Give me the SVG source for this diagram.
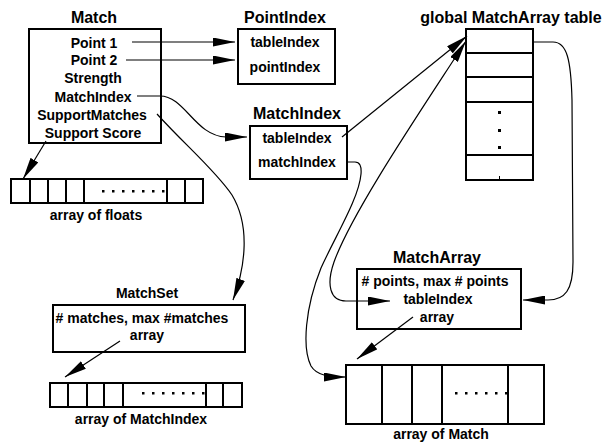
<svg xmlns="http://www.w3.org/2000/svg" width="610" height="442" viewBox="0 0 610 442">
  <defs>
    <marker id="arrow" markerUnits="userSpaceOnUse" markerWidth="22" markerHeight="9" refX="22" refY="4.5" orient="auto-start-reverse">
      <path d="M0,0 L22,4.5 L0,9 z" fill="#000"/>
    </marker>
  </defs>
  <style>
    text { font-family: "Liberation Sans", Arial, Helvetica, sans-serif; font-weight: bold; fill: #000; text-anchor: middle; }
    .title { font-size: 16px; }
    .item { font-size: 14px; }
    .box { fill: #fff; stroke: #000; stroke-width: 2; }
    .cell { fill: none; stroke: #000; stroke-width: 2; }
    .conn { fill: none; stroke: #000; stroke-width: 1.2; }
    .dot { fill: #000; }
  </style>
  <rect x="0" y="0" width="610" height="442" fill="#fff"/>

  <!-- Match record -->
  <g id="match">
    <text class="title" x="94" y="23">Match</text>
    <rect class="box" x="29" y="29" width="132" height="114"/>
    <text class="item" x="94" y="48">Point 1</text>
    <text class="item" x="94" y="65">Point 2</text>
    <text class="item" x="93" y="83">Strength</text>
    <text class="item" x="93" y="102">MatchIndex</text>
    <text class="item" x="92" y="120">SupportMatches</text>
    <text class="item" x="93" y="138">Support Score</text>
  </g>

  <!-- PointIndex record -->
  <g id="pointindex">
    <text class="title" x="285" y="23">PointIndex</text>
    <rect class="box" x="238" y="29" width="97" height="55"/>
    <text class="item" x="285" y="47">tableIndex</text>
    <text class="item" x="285" y="72">pointIndex</text>
  </g>

  <!-- MatchIndex record -->
  <g id="matchindex">
    <text class="title" x="297" y="119">MatchIndex</text>
    <rect class="box" x="250" y="126" width="97" height="53"/>
    <text class="item" x="297" y="143">tableIndex</text>
    <text class="item" x="297" y="167">matchIndex</text>
  </g>

  <!-- global MatchArray table -->
  <g id="global-table">
    <text class="title" x="511" y="23">global MatchArray table</text>
    <rect class="box" x="466" y="29" width="67" height="151"/>
    <line class="cell" x1="466" y1="53" x2="533" y2="53"/>
    <line class="cell" x1="466" y1="77" x2="533" y2="77"/>
    <line class="cell" x1="466" y1="102" x2="533" y2="102"/>
    <line class="cell" x1="466" y1="155" x2="533" y2="155"/>
    <rect class="dot" x="498" y="111" width="3" height="3"/>
    <rect class="dot" x="498" y="129" width="3" height="3"/>
    <rect class="dot" x="498" y="146" width="3" height="3"/>
    <line x1="499.5" y1="176" x2="499.5" y2="181" stroke="#000" stroke-width="1"/>
  </g>

  <!-- array of floats -->
  <g id="array-of-floats">
    <rect class="cell" x="11" y="179" width="192" height="24"/>
    <line class="cell" x1="30" y1="179" x2="30" y2="203"/>
    <line class="cell" x1="48" y1="179" x2="48" y2="203"/>
    <line class="cell" x1="66" y1="179" x2="66" y2="203"/>
    <line class="cell" x1="84" y1="179" x2="84" y2="203"/>
    <line class="cell" x1="167" y1="179" x2="167" y2="203"/>
    <line class="cell" x1="185" y1="179" x2="185" y2="203"/>
    <rect class="dot" x="102" y="190" width="2.5" height="2.5"/>
    <rect class="dot" x="112" y="190" width="2.5" height="2.5"/>
    <rect class="dot" x="122" y="190" width="2.5" height="2.5"/>
    <rect class="dot" x="132" y="190" width="2.5" height="2.5"/>
    <rect class="dot" x="142" y="190" width="2.5" height="2.5"/>
    <rect class="dot" x="152" y="190" width="2.5" height="2.5"/>
    <rect class="dot" x="162" y="190" width="2.5" height="2.5"/>
    <text class="item" x="96" y="220">array of floats</text>
  </g>

  <!-- MatchSet record -->
  <g id="matchset">
    <text class="item" x="147" y="298">MatchSet</text>
    <rect class="box" x="53" y="305" width="192" height="47"/>
    <text class="item" x="142" y="323"># matches, max #matches</text>
    <text class="item" x="147" y="340">array</text>
  </g>

  <!-- array of MatchIndex -->
  <g id="array-of-matchindex">
    <rect class="cell" x="50" y="383" width="192" height="24"/>
    <line class="cell" x1="68" y1="383" x2="68" y2="407"/>
    <line class="cell" x1="87" y1="383" x2="87" y2="407"/>
    <line class="cell" x1="104" y1="383" x2="104" y2="407"/>
    <line class="cell" x1="123" y1="383" x2="123" y2="407"/>
    <line class="cell" x1="206" y1="383" x2="206" y2="407"/>
    <line class="cell" x1="223" y1="383" x2="223" y2="407"/>
    <rect class="dot" x="142" y="392" width="2.5" height="2.5"/>
    <rect class="dot" x="152" y="392" width="2.5" height="2.5"/>
    <rect class="dot" x="162" y="392" width="2.5" height="2.5"/>
    <rect class="dot" x="172" y="392" width="2.5" height="2.5"/>
    <rect class="dot" x="182" y="392" width="2.5" height="2.5"/>
    <rect class="dot" x="192" y="392" width="2.5" height="2.5"/>
    <rect class="dot" x="202" y="392" width="2.5" height="2.5"/>
    <text class="item" x="141" y="424">array of MatchIndex</text>
  </g>

  <!-- MatchArray record -->
  <g id="matcharray">
    <text class="title" x="437" y="263">MatchArray</text>
    <rect class="box" x="357" y="269" width="164" height="60"/>
    <text class="item" x="435" y="286"># points, max # points</text>
    <text class="item" x="438" y="304">tableIndex</text>
    <text class="item" x="437" y="322">array</text>
  </g>

  <!-- array of Match -->
  <g id="array-of-match">
    <rect class="cell" x="346" y="365" width="198" height="59"/>
    <line class="cell" x1="382" y1="365" x2="382" y2="424"/>
    <line class="cell" x1="412" y1="365" x2="412" y2="424"/>
    <line class="cell" x1="442" y1="365" x2="442" y2="424"/>
    <line class="cell" x1="508" y1="365" x2="508" y2="424"/>
    <rect class="dot" x="455" y="392" width="2.5" height="2.5"/>
    <rect class="dot" x="465" y="392" width="2.5" height="2.5"/>
    <rect class="dot" x="475" y="392" width="2.5" height="2.5"/>
    <rect class="dot" x="485" y="392" width="2.5" height="2.5"/>
    <rect class="dot" x="495" y="392" width="2.5" height="2.5"/>
    <rect class="dot" x="505" y="392" width="2.5" height="2.5"/>
    <text class="item" x="441" y="439">array of Match</text>
  </g>

  <!-- connectors -->
  <g id="connectors">
    <path class="conn" d="M132,42 L235,42" marker-end="url(#arrow)"/>
    <path class="conn" d="M126,60 L235,60" marker-end="url(#arrow)"/>
    <path class="conn" d="M137,96 L160,96 C185,96 195,136 226,137 L247,137" marker-end="url(#arrow)"/>
    <path class="conn" d="M157,114 C185,145 215,170 232,195 C250,225 246,265 233,300" marker-end="url(#arrow)"/>
    <path class="conn" d="M46,141 L23,179" marker-end="url(#arrow)"/>
    <path class="conn" d="M342,137 L467,36" marker-end="url(#arrow)"/>
    <path class="conn" d="M347,162 L355,162 Q362,162 361,174 C359,198 336,235 321,268 C305,308 302,348 311,366 C317,376 330,377 346,377" marker-end="url(#arrow)"/>
    <path class="conn" d="M466,41 C420,112 352,212 334,262 C326,285 330,301 346,301 L390,301" marker-start="url(#arrow)" marker-end="url(#arrow)"/>
    <path class="conn" d="M533,42 L553,42 C567,42 571,60 572,100 L573,262 C573,290 565,300 548,300 L523,300" marker-end="url(#arrow)"/>
    <path class="conn" d="M413,317 L357,359" marker-end="url(#arrow)"/>
    <path class="conn" d="M120,341 L65,377" marker-end="url(#arrow)"/>
  </g>
</svg>
